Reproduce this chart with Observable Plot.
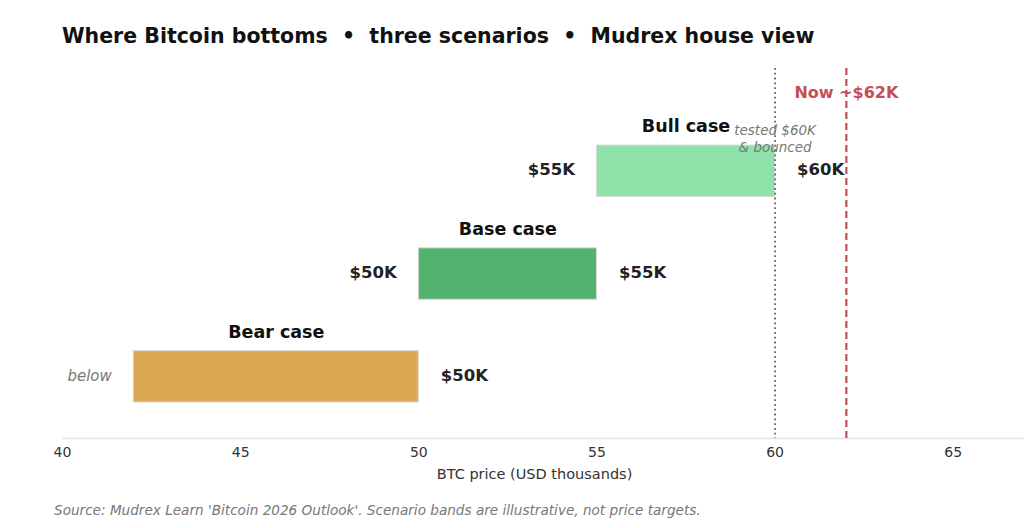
<!DOCTYPE html>
<html><head><meta charset="utf-8">
<script src="https://cdn.jsdelivr.net/npm/d3@7"></script>
<script src="https://cdn.jsdelivr.net/npm/@observablehq/plot@0.6"></script>
<style>
body{margin:0;width:1024px;height:528px;position:relative;overflow:hidden;background:#fff;font-family:"DejaVu Sans",sans-serif;}
#title{position:absolute;left:62px;top:24px;font-size:20.5px;font-weight:bold;color:#111;white-space:pre;}
#chart{position:absolute;left:0;top:60px;}
#caption{position:absolute;left:54px;top:502px;font-size:13.6px;font-style:italic;color:#777;white-space:pre;}
</style></head>
<body>
<div id="title">Where Bitcoin bottoms  •  three scenarios  •  Mudrex house view</div>
<div id="chart"></div>
<div id="caption">Source: Mudrex Learn 'Bitcoin 2026 Outlook'. Scenario bands are illustrative, not price targets.</div>
<script>
const scenarios = ["Bear case", "Base case", "Bull case"];
const levels = [0, 1, 2];
const lows = [42, 50, 55];
const highs = [50, 55, 60];
const lowLabels = ["below", "$50K", "$55K"];
const highLabels = ["$50K", "$55K", "$60K"];
const colors = ["#dca852", "#52b36f", "#90e2ab"];
const xTicks = [40, 45, 50, 55, 60, 65];
const testedPrice = 60;
const nowPrice = 62;
const testedNote = "tested $60K\n& bounced";
const nowNote = "Now ~$62K";
const xLabel = "BTC price (USD thousands)";

const rows = scenarios.map((s, i) => ({
  name: s, lev: levels[i], lo: lows[i], hi: highs[i],
  loLab: lowLabels[i], hiLab: highLabels[i], color: colors[i]
}));
const yDomain = [-0.6, 3.0];
const half = 0.25;

const chart = Plot.plot({
  width: 1024, height: 423,
  marginLeft: 62, marginRight: 0, marginTop: 8, marginBottom: 45,
  style: {fontFamily: "DejaVu Sans, sans-serif", background: "#fff"},
  x: {domain: [40, 67], ticks: xTicks, tickSize: 0, tickPadding: 8, label: null},
  y: {domain: yDomain, axis: null},
  marks: [
    Plot.ruleY([yDomain[0]], {stroke: "#e4e4e4", strokeWidth: 1.5}),
    Plot.axisX({ticks: xTicks, tickSize: 0, tickPadding: 9, fontSize: 14, fill: "#333", label: null}),
    Plot.text([xLabel], {frameAnchor: "bottom", dy: 40, dx: -9, fontSize: 14.5, fill: "#333"}),
    Plot.rect(rows, {x1: "lo", x2: "hi", y1: d => d.lev - half, y2: d => d.lev + half, fill: "color", stroke: "#d8d8d8", strokeWidth: 1}),
    Plot.ruleX([testedPrice], {stroke: "#666", strokeWidth: 1.8, strokeDasharray: "1.8,3"}),
    Plot.ruleX([nowPrice], {stroke: "#c84c55", strokeWidth: 2.2, strokeDasharray: "7,4"}),
    Plot.text(rows, {x: d => (d.lo + d.hi) / 2, y: d => d.lev + half, dy: -19, text: "name", fontWeight: "bold", fontSize: 17.5, fill: "#111"}),
    Plot.text(rows.filter(d => d.loLab !== "below"), {x: "lo", y: "lev", dy: -1.5, dx: -22, text: "loLab", textAnchor: "end", fontWeight: "bold", fontSize: 16.5, fill: "#222"}),
    Plot.text(rows.filter(d => d.loLab === "below"), {x: "lo", y: "lev", dy: -1, dx: -22, text: "loLab", textAnchor: "end", fontStyle: "italic", fontSize: 15, fill: "#777"}),
    Plot.text(rows, {x: "hi", y: "lev", dx: 22, dy: -1.5, text: "hiLab", textAnchor: "start", fontWeight: "bold", fontSize: 16.5, fill: "#222"}),
    Plot.text([testedNote], {x: testedPrice, y: 2.32, text: d => d, fontStyle: "italic", fontSize: 13.5, fill: "#777", lineHeight: 1.25}),
    Plot.text([nowNote], {x: nowPrice, y: 2.76, text: d => d, fontWeight: "bold", fontSize: 16, fill: "#c84c55"})
  ]
});
document.getElementById("chart").appendChild(chart);
</script>
</body></html>
